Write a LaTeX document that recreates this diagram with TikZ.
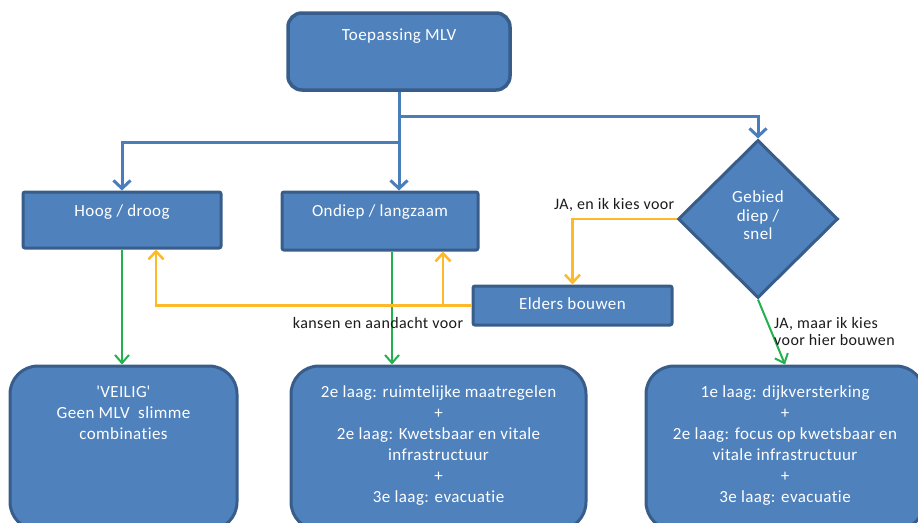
\documentclass[tikz,border=0pt]{standalone}
\usepackage{fontspec}
\setmainfont{Carlito}[Ligatures={TeX,NoCommon},LetterSpace=2.5]
\usetikzlibrary{arrows.meta,shapes.geometric}
\definecolor{boxfill}{HTML}{4F81BD}
\definecolor{boxline}{HTML}{385D8A}
\definecolor{conblue}{HTML}{4A7EBB}
\definecolor{congreen}{HTML}{22B14C}
\definecolor{conyel}{HTML}{FDB927}
\definecolor{lbltext}{HTML}{1A1A1A}
\begin{document}
\begin{tikzpicture}[x=1pt,y=-1pt,
  box/.style={draw=boxline, fill=boxfill, line width=3pt, text=white, inner sep=0pt,
    font=\fontsize{17}{21}\selectfont},
  smallbox/.style={box, rounded corners=2pt, text height=12pt},
  bigbox/.style={box, rounded corners=28pt, minimum height=164pt},
  bluecon/.style={draw=conblue, line width=3pt, -{Straight Barb[length=8pt,width=17pt]}},
  greencon/.style={draw=congreen, line width=2pt, -{Straight Barb[length=8pt,width=14pt]}},
  yelcon/.style={draw=conyel, line width=2.5pt, -{Straight Barb[length=8pt,width=15pt]}},
  lbl/.style={text=lbltext, inner sep=0pt, font=\fontsize{16}{17}\selectfont}]
\useasboundingbox (0,0) rectangle (918,522);
\clip (0,0) rectangle (918,522);

% boxes
\node[box, rounded corners=14pt, line width=3.5pt, minimum width=222pt, minimum height=77pt,
  text height=12pt, text depth=35pt] (top) at (399,51.5) {Toepassing MLV};
\node[smallbox, minimum width=198pt, minimum height=56pt, text depth=20pt] (hoog) at (122,220) {Hoog / droog};
\node[smallbox, minimum width=196pt, minimum height=58pt, text depth=22pt] (ondiep) at (380,221) {Ondiep / langzaam};
\node[smallbox, minimum width=199pt, minimum height=39pt, text depth=5pt] (elders) at (572.5,305.5) {Elders bouwen};
\node[box, diamond, minimum width=160pt, minimum height=158pt, align=center,
  font=\fontsize{17}{18.5}\selectfont] (diam) at (758,219)
  {\raisebox{0pt}[12pt][0pt]{Gebied}\\diep /\\\raisebox{0pt}[12pt][8pt]{snel}};

\node[bigbox, minimum width=227pt] (veilig) at (123.5,448)
  {\parbox[c][164pt][t]{215pt}{\centering\rule{0pt}{31pt}\textquotesingle VEILIG\textquotesingle\\
   Geen MLV\enspace slimme\\combinaties}};
\node[bigbox, minimum width=295pt] (midbox) at (438.5,448)
  {\parbox[c][164pt][t]{285pt}{\centering\rule{0pt}{31pt}2e laag: ruimtelijke maatregelen\\+\\
   2e laag: Kwetsbaar en vitale\\infrastructuur\\+\\3e laag: evacuatie}};
\node[bigbox, minimum width=278pt] (rightbox) at (785,448)
  {\parbox[c][164pt][t]{265pt}{\centering\rule{0pt}{31pt}1e laag: dijkversterking\\+\\
   2e laag: focus op kwetsbaar en\\vitale infrastructuur\\+\\3e laag: evacuatie}};

% blue connectors
\coordinate (j2) at ([yshift=-25pt]top.south);
\coordinate (j1) at ([yshift=-51pt]top.south);
\draw[bluecon] (top.south) -- (top.south |- ondiep.north);
\draw[bluecon] (j1) -| (hoog.north);
\draw[bluecon] (j2) -| (diam.north);

% green connectors
\draw[greencon] (hoog.south) -- (hoog.south |- veilig.north);
\draw[greencon] ([xshift=12pt]ondiep.south) -- ([xshift=12pt]ondiep.south |- midbox.north);
\draw[greencon] (diam.south) -- (rightbox.north);

% yellow connectors
\draw[yelcon] (diam.west) -| (elders.north);
\draw[yelcon] (elders.west) -| ([xshift=34pt]hoog.south);
\draw[yelcon] ([xshift=63pt]ondiep.south |- elders.west) -- ([xshift=63pt]ondiep.south);

% labels
\node[lbl, anchor=east] (l1) at ([xshift=-2pt,yshift=14pt]diam.west) {JA, en ik kies voor};
\node[lbl] (l2) at (378,323) {kansen en aandacht voor};
\node[lbl, anchor=west, align=left] (l3) at (774,331) {JA, maar ik kies\\voor hier bouwen};
\end{tikzpicture}
\end{document}
